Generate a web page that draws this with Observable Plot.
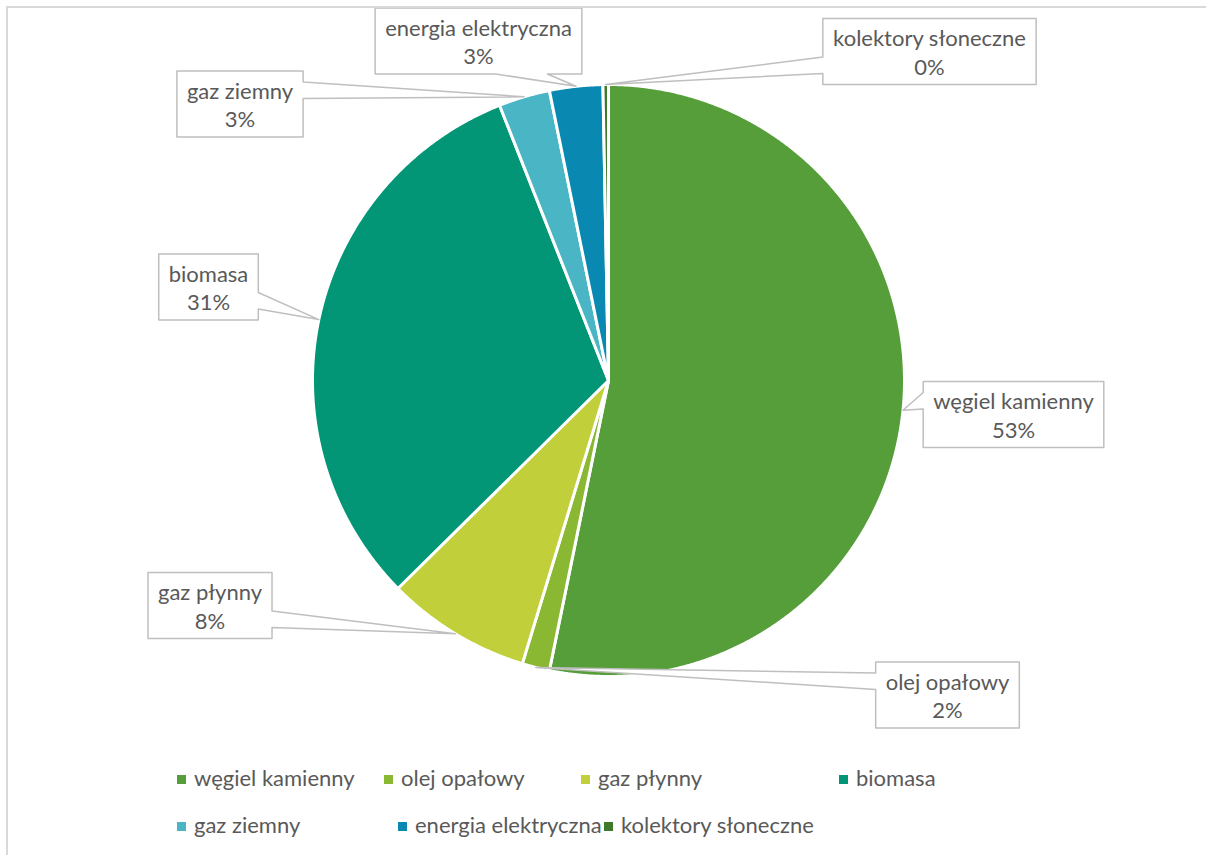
<!DOCTYPE html>
<html><head><meta charset="utf-8">
<script src="https://cdn.jsdelivr.net/npm/d3@7"></script>
<script src="https://cdn.jsdelivr.net/npm/@observablehq/plot@0.6"></script>
<style>
body{margin:0;background:#fff;font-family:Lato,"Open Sans",sans-serif;}
#wrap{position:relative;width:1206px;height:855px;overflow:hidden;background:#fff;}
#border{position:absolute;left:6px;top:6px;width:1400px;height:1000px;border-left:2px solid #d9d9d9;border-top:2px solid #d9d9d9;pointer-events:none;}
#chart{position:absolute;left:0;top:0;}
#legend{position:absolute;left:0;top:750px;width:1206px;height:105px;}
.item{position:absolute;font-size:22px;color:#595959;white-space:nowrap;line-height:26px;transform:translateY(-50%);}
.item span.sw{display:inline-block;width:9px;height:9px;margin-right:8px;vertical-align:2px;}
</style>
</head><body>
<div id="wrap"><div id="chart"></div><div id="legend"></div><div id="border"></div></div>
<script>
// ---- data ----
const categories = ["węgiel kamienny","olej opałowy","gaz płynny","biomasa","gaz ziemny","energia elektryczna","kolektory słoneczne"];
const shares = [53.2, 1.5, 7.9, 31.4, 2.8, 2.9, 0.3];
const percentLabels = ["53%","2%","8%","31%","3%","3%","0%"];
const colors = ["#559E3A","#8AB833","#C0CF3A","#029676","#4AB5C4","#0989B1","#3E7A2A"];

// ---- layout (label box centres relative to pie centre, px) ----
const labelOffsetX = [405, 339, -398.5, -400, -368.5, -130, 321];
const labelOffsetY = [34, 314.5, 225, -93.5, -276.5, -339.5, -329];
const legendLeft = [177, 384, 581, 839, 177, 398, 604];
const legendRow = [0, 0, 0, 0, 1, 1, 1];

const W = 1206, H = 750, CX = 608, CY = 380, R = 296, FONT = "Lato", FS = 22;

const rows = categories.map((name, i) => ({name, share: shares[i], pct: percentLabels[i], color: colors[i]}));
const arcs = d3.pie().sort(null).value(d => d.share)(rows);

// slice polygons
const slicePts = [];
arcs.forEach(a => {
  const n = Math.max(2, Math.ceil((a.endAngle - a.startAngle) / 0.004));
  slicePts.push({name: a.data.name, x: 0, y: 0});
  for (let i = 0; i <= n; i++) {
    const t = a.startAngle + (a.endAngle - a.startAngle) * i / n;
    slicePts.push({name: a.data.name, x: R * Math.sin(t), y: -R * Math.cos(t)});
  }
});

// text measurement
const ctx = document.createElement("canvas").getContext("2d");
ctx.font = `${FS}px ${FONT}`;

// callouts
const labels = [];
const calloutPts = [];
arcs.forEach((a, i) => {
  const mid = (a.startAngle + a.endAngle) / 2;
  const tx = R * Math.sin(mid), ty = -R * Math.cos(mid);
  const cx = labelOffsetX[i], cy = labelOffsetY[i];
  const tw = Math.max(ctx.measureText(a.data.name).width, ctx.measureText(a.data.pct).width);
  const w = tw + 20, h = 66;
  const L = cx - w / 2, Rr = cx + w / 2, T = cy - h / 2, B = cy + h / 2;
  const dx = tx - cx, dy = ty - cy;
  let side;
  if (Math.abs(dx) / w > Math.abs(dy) / h) side = dx < 0 ? "left" : "right";
  else side = dy < 0 ? "top" : "bottom";
  const xa = L + w * (dx < 0 ? 2 / 12 : 7 / 12), xb = L + w * (dx < 0 ? 5 / 12 : 10 / 12);
  const ya = T + h * (dy < 0 ? 2 / 12 : 7 / 12), yb = T + h * (dy < 0 ? 5 / 12 : 10 / 12);
  const pts = [[L, T]];
  if (side === "top") pts.push([xa, T], [tx, ty], [xb, T]);
  pts.push([Rr, T]);
  if (side === "right") pts.push([Rr, ya], [tx, ty], [Rr, yb]);
  pts.push([Rr, B]);
  if (side === "bottom") pts.push([xb, B], [tx, ty], [xa, B]);
  pts.push([L, B]);
  if (side === "left") pts.push([L, yb], [tx, ty], [L, ya]);
  pts.forEach(([x, y]) => calloutPts.push({name: a.data.name, x, y}));
  labels.push({name: a.data.name, pct: a.data.pct, x: cx, y: cy});
});

const chart = Plot.plot({
  width: W, height: H,
  margin: 0,
  x: {domain: [-CX, W - CX], range: [0, W], axis: null},
  y: {domain: [-CY, H - CY], range: [0, H], axis: null},
  color: {domain: categories, range: colors},
  style: {background: "transparent", fontFamily: FONT},
  marks: [
    Plot.line(slicePts, {x: "x", y: "y", z: "name", fill: "name", stroke: "white", strokeWidth: 3, strokeLinejoin: "round", curve: "linear-closed"}),
    Plot.line(calloutPts, {x: "x", y: "y", z: "name", fill: "white", stroke: "#BFBFBF", strokeWidth: 1.5, curve: "linear-closed"}),
    Plot.text(labels, {x: "x", y: "y", text: d => d.name + "\n" + d.pct, fontSize: FS, lineHeight: 1.3, fill: "#595959", fontFamily: FONT})
  ]
});
document.getElementById("chart").appendChild(chart);

// legend
const leg = document.getElementById("legend");
categories.forEach((name, i) => {
  const el = document.createElement("div");
  el.className = "item";
  el.style.left = legendLeft[i] + "px";
  el.style.top = (legendRow[i] === 0 ? 28 : 75) + "px";
  el.innerHTML = `<span class="sw" style="background:${colors[i]}"></span>${name}`;
  leg.appendChild(el);
});
</script>
</body></html>
